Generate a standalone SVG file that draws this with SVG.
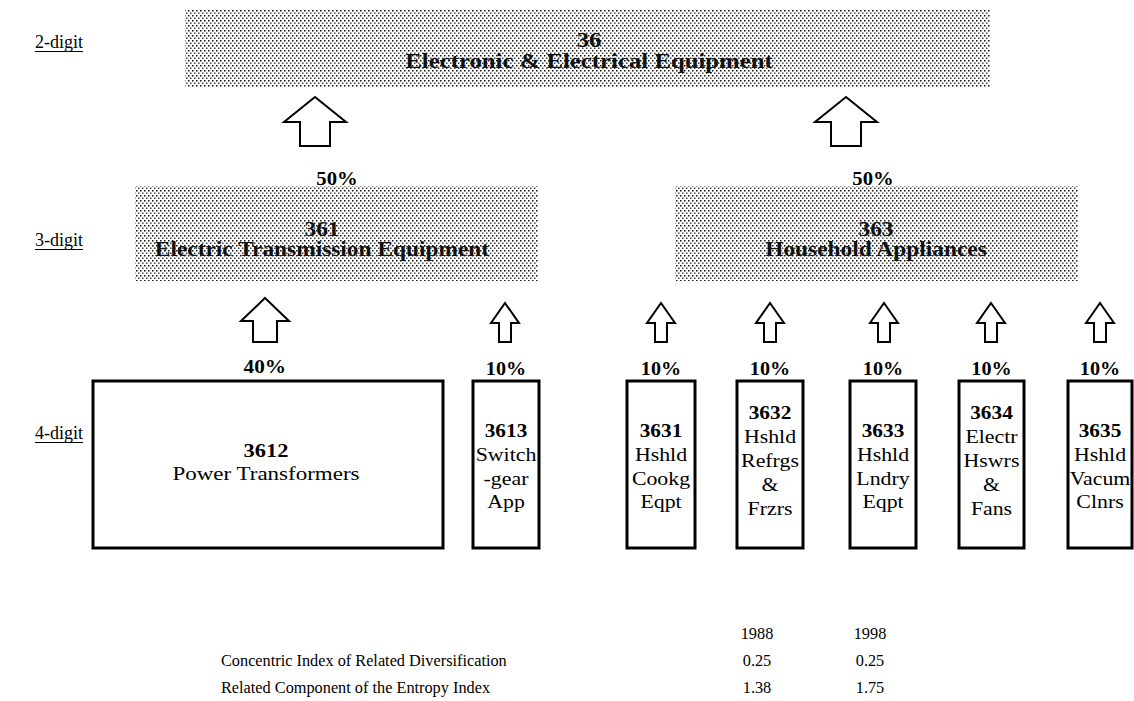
<svg xmlns="http://www.w3.org/2000/svg" width="1134" height="701" viewBox="0 0 1134 701">
<style>
text{font-family:"Liberation Serif","Times New Roman",serif;fill:#000}
.lvl{font-size:18px}
.t2{font-size:21px;font-weight:bold;fill:#111}
.t3{font-size:20px;font-weight:bold;fill:#111}
.pct{font-size:18px;font-weight:bold}
.code{font-size:19px;font-weight:bold}
.nm{font-size:19.5px}
.tbl{font-size:16.3px}
.agg{fill:url(#dots);stroke:none}
.box{fill:#fff;stroke:#000;stroke-width:3}
.arr{fill:#fff;stroke:#000;stroke-width:2;stroke-linejoin:miter}
.ul{stroke:#000;stroke-width:1.2}
</style>
<defs>
<pattern id="dots" width="4" height="5" patternUnits="userSpaceOnUse">
<rect width="4" height="5" fill="#fff"/>
<rect x="0" y="0" width="1.5" height="1.5" fill="#111"/>
<rect x="2" y="2.5" width="1.5" height="1.5" fill="#444"/>
</pattern>
</defs>
<rect width="1134" height="701" fill="#fff"/>

<g id="labels">
<text class="lvl" x="35" y="48">2-digit</text>
<line class="ul" x1="35" y1="51.5" x2="83" y2="51.5"/>
<text class="lvl" x="35" y="246">3-digit</text>
<line class="ul" x1="35" y1="249.5" x2="83" y2="249.5"/>
<text class="lvl" x="35" y="439">4-digit</text>
<line class="ul" x1="35" y1="442.5" x2="83" y2="442.5"/>
</g>

<g id="n36">
<rect class="agg" x="185" y="9" width="805" height="78"/>
<g transform="translate(589,0) scale(1.18,1)" text-anchor="middle">
<text class="t2" x="0" y="47">36</text>
<text class="t2" x="0" y="68">Electronic &amp; Electrical Equipment</text>
</g>
</g>

<g id="n361">
<rect class="agg" x="135" y="186" width="403" height="95"/>
<g transform="translate(322,0) scale(1.17,1)" text-anchor="middle">
<text class="t3" x="0" y="236">361</text>
<text class="t3" x="0" y="256">Electric Transmission Equipment</text>
</g>
<text class="pct" x="337" y="185" text-anchor="middle" transform="translate(337,0) scale(1.15,1) translate(-337,0)">50%</text>
</g>

<g id="n363">
<rect class="agg" x="675" y="186" width="403" height="95"/>
<g transform="translate(876,0) scale(1.17,1)" text-anchor="middle">
<text class="t3" x="0" y="236">363</text>
<text class="t3" x="0" y="256">Household Appliances</text>
</g>
<text class="pct" x="873" y="185" text-anchor="middle" transform="translate(873,0) scale(1.15,1) translate(-873,0)">50%</text>
</g>

<g id="n3612">
<rect class="box" x="93" y="381" width="350" height="167"/>
<g transform="translate(266,0) scale(1.18,1)" text-anchor="middle">
<text class="code" x="0" y="457">3612</text>
<text class="nm" x="0" y="480">Power Transformers</text>
<text class="pct" x="-1" y="373">40%</text>
</g>
</g>

<g id="n3613">
<rect class="box" x="473" y="381" width="66" height="167"/>
<g transform="translate(506,0) scale(1.12,1)" text-anchor="middle">
<text class="pct" x="0" y="375">10%</text>
<text class="code" x="0" y="437">3613</text>
<text class="nm" x="0" y="461">Switch</text>
<text class="nm" x="0" y="485">-gear</text>
<text class="nm" x="0" y="508">App</text>
</g>
</g>

<g id="n3631">
<rect class="box" x="627" y="381" width="68" height="167"/>
<g transform="translate(661,0) scale(1.12,1)" text-anchor="middle">
<text class="pct" x="0" y="375">10%</text>
<text class="code" x="0" y="437">3631</text>
<text class="nm" x="0" y="461">Hshld</text>
<text class="nm" x="0" y="485">Cookg</text>
<text class="nm" x="0" y="508">Eqpt</text>
</g>
</g>

<g id="n3632">
<rect class="box" x="737" y="381" width="66" height="167"/>
<g transform="translate(770,0) scale(1.12,1)" text-anchor="middle">
<text class="pct" x="0" y="375">10%</text>
<text class="code" x="0" y="419">3632</text>
<text class="nm" x="0" y="443">Hshld</text>
<text class="nm" x="0" y="467">Refrgs</text>
<text class="nm" x="0" y="491">&amp;</text>
<text class="nm" x="0" y="515">Frzrs</text>
</g>
</g>

<g id="n3633">
<rect class="box" x="850" y="381" width="66" height="167"/>
<g transform="translate(883,0) scale(1.12,1)" text-anchor="middle">
<text class="pct" x="0" y="375">10%</text>
<text class="code" x="0" y="437">3633</text>
<text class="nm" x="0" y="461">Hshld</text>
<text class="nm" x="0" y="485">Lndry</text>
<text class="nm" x="0" y="508">Eqpt</text>
</g>
</g>

<g id="n3634">
<rect class="box" x="959" y="381" width="65" height="167"/>
<g transform="translate(991.5,0) scale(1.12,1)" text-anchor="middle">
<text class="pct" x="0" y="375">10%</text>
<text class="code" x="0" y="419">3634</text>
<text class="nm" x="0" y="443">Electr</text>
<text class="nm" x="0" y="467">Hswrs</text>
<text class="nm" x="0" y="491">&amp;</text>
<text class="nm" x="0" y="515">Fans</text>
</g>
</g>

<g id="n3635">
<rect class="box" x="1068" y="381" width="64" height="167"/>
<g transform="translate(1100,0) scale(1.12,1)" text-anchor="middle">
<text class="pct" x="0" y="375">10%</text>
<text class="code" x="0" y="437">3635</text>
<text class="nm" x="0" y="461">Hshld</text>
<text class="nm" x="0" y="485">Vacum</text>
<text class="nm" x="0" y="508">Clnrs</text>
</g>
</g>

<g id="connectors">
<path class="arr" d="M315,97 L346,122 L330,122 L330,146 L300,146 L300,122 L284,122 Z"/>
<path class="arr" d="M846,97 L877,122 L861,122 L861,146 L831,146 L831,122 L815,122 Z"/>
<path class="arr" d="M265,298 L289,321 L277,321 L277,342 L253,342 L253,321 L241,321 Z"/>
<path class="arr" d="M505,303 L519,323 L511,323 L511,342 L499,342 L499,323 L491,323 Z"/>
<path class="arr" d="M661,303 L675,323 L667,323 L667,342 L655,342 L655,323 L647,323 Z"/>
<path class="arr" d="M770,303 L784,323 L776,323 L776,342 L764,342 L764,323 L756,323 Z"/>
<path class="arr" d="M884,303 L898,323 L890,323 L890,342 L878,342 L878,323 L870,323 Z"/>
<path class="arr" d="M991,303 L1005,323 L997,323 L997,342 L985,342 L985,323 L977,323 Z"/>
<path class="arr" d="M1100,303 L1114,323 L1106,323 L1106,342 L1094,342 L1094,323 L1086,323 Z"/>
</g>

<g id="table">
<text class="tbl" x="757" y="639" text-anchor="middle">1988</text>
<text class="tbl" x="870" y="639" text-anchor="middle">1998</text>
<text class="tbl" x="221" y="666">Concentric Index of Related Diversification</text>
<text class="tbl" x="757" y="666" text-anchor="middle">0.25</text>
<text class="tbl" x="870" y="666" text-anchor="middle">0.25</text>
<text class="tbl" x="221" y="693">Related Component of the Entropy Index</text>
<text class="tbl" x="757" y="693" text-anchor="middle">1.38</text>
<text class="tbl" x="870" y="693" text-anchor="middle">1.75</text>
</g>
</svg>
